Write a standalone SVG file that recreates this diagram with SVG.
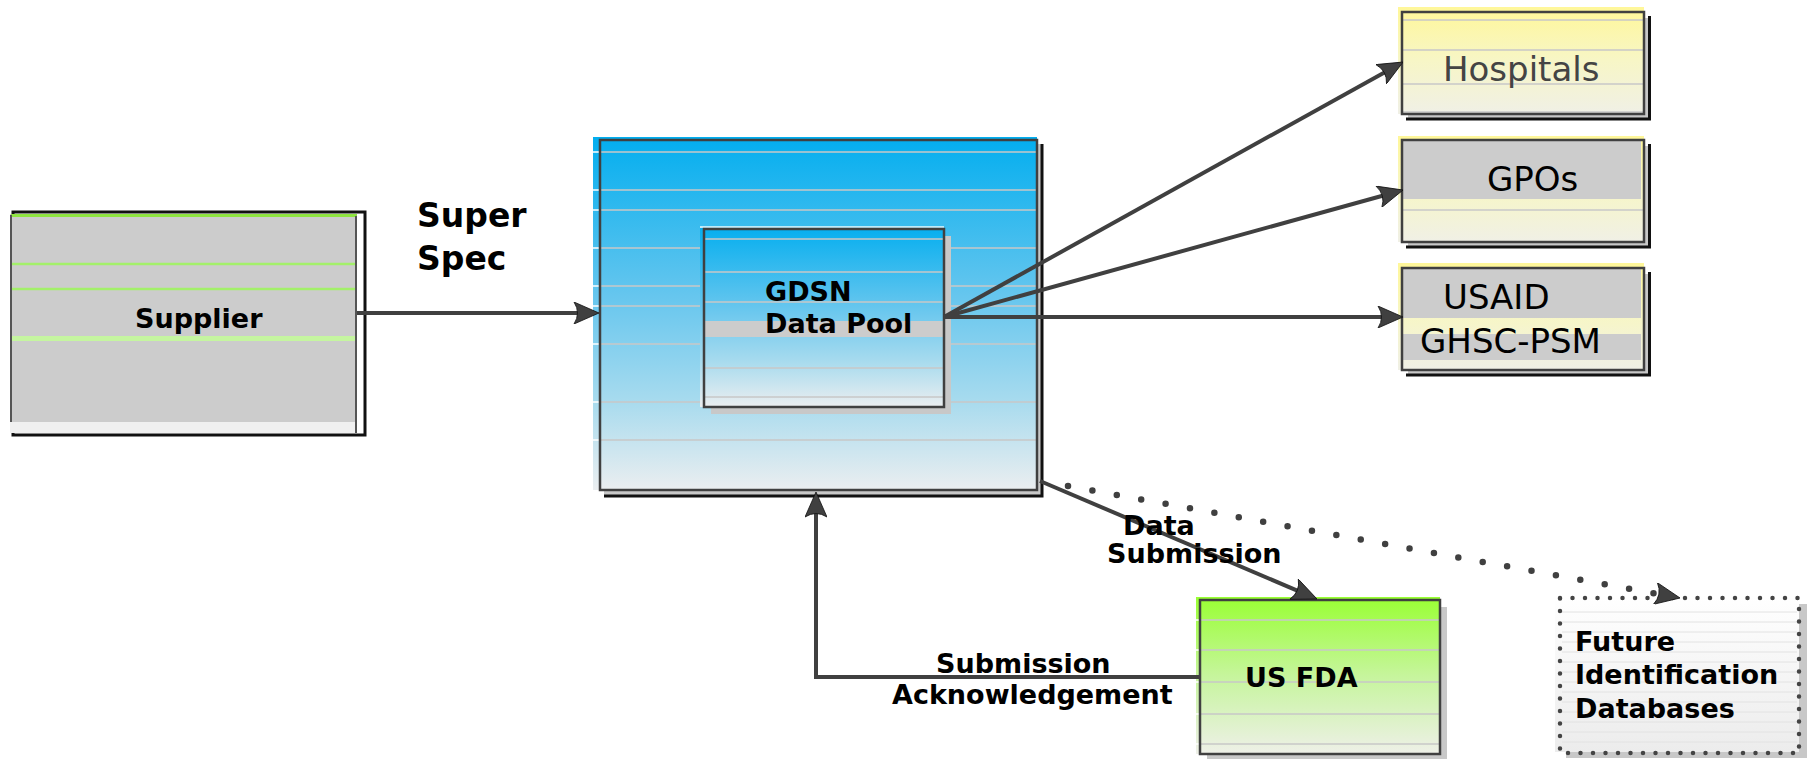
<svg xmlns="http://www.w3.org/2000/svg" width="1807" height="759" viewBox="0 0 1807 759">
<defs>
<style>
.t{font-family:"DejaVu Sans",Verdana,sans-serif;fill:#000;}
.b{font-weight:bold;font-size:27px;}
.bigt{font-weight:bold;font-size:33px;}
.rt{font-size:34px;}
.ln{stroke:#c8c8c8;stroke-width:1.5;fill:none;}
.fl{stroke:#e2e2e2;stroke-width:1;fill:none;}
.wt{stroke:#ffffff;stroke-width:1.5;fill:none;}
.bd{fill:none;stroke:#404040;stroke-width:2.5;}
.blk{fill:none;stroke:#111111;stroke-width:3;}
.sh{fill:#c8c8c8;}
.band{fill:#cccccc;}
.con{fill:none;stroke:#404040;stroke-width:4;}
</style>
<linearGradient id="blue" x1="0" y1="0" x2="0" y2="1">
<stop offset="0" stop-color="#03aeef"/>
<stop offset="0.45" stop-color="#66c6ee"/>
<stop offset="0.75" stop-color="#a8dbee"/>
<stop offset="1" stop-color="#ebeef0"/>
</linearGradient>
<linearGradient id="yellow" x1="0" y1="0" x2="0" y2="1">
<stop offset="0" stop-color="#fff799"/>
<stop offset="0.5" stop-color="#f7f6c6"/>
<stop offset="1" stop-color="#f0f0e6"/>
</linearGradient>
<linearGradient id="green" x1="0" y1="0" x2="0" y2="1">
<stop offset="0" stop-color="#99ff33"/>
<stop offset="0.5" stop-color="#c6f59c"/>
<stop offset="1" stop-color="#eef0e8"/>
</linearGradient>
<linearGradient id="white" x1="0" y1="0" x2="0" y2="1">
<stop offset="0" stop-color="#ffffff"/>
<stop offset="1" stop-color="#ececec"/>
</linearGradient>
<marker id="arr" markerUnits="userSpaceOnUse" viewBox="0 0 26 22" refX="16" refY="11" markerWidth="26" markerHeight="22" orient="auto">
<path d="M1,0 L26,11 L1,22 Q8,11 1,0 Z" fill="#404040" stroke="#111" stroke-width="0.8"/>
</marker>
</defs>
<rect width="1807" height="759" fill="#ffffff"/>

<g id="supplier">
<rect x="13" y="212" width="352" height="223" fill="#ffffff" class="blk"/>
<rect x="10" y="214" width="347" height="208" fill="#cccccc"/>
<rect x="10" y="422" width="347" height="11" fill="#f0f0f0"/>
<line x1="11" y1="215.5" x2="357" y2="215.5" stroke="#8fe540" stroke-width="3"/>
<line x1="11" y1="264" x2="357" y2="264" stroke="#a3f06a" stroke-width="2.5"/>
<line x1="11" y1="289" x2="357" y2="289" stroke="#a3f06a" stroke-width="2.5"/>
<line x1="11" y1="338.5" x2="357" y2="338.5" stroke="#c5f5a0" stroke-width="5"/>
<line x1="11" y1="215" x2="11" y2="422" stroke="#555" stroke-width="2"/>
<line x1="356" y1="216" x2="356" y2="433" stroke="#555" stroke-width="2"/>
<text class="t b" x="135" y="328">Supplier</text>
</g>

<g id="gdsn-outer">
<rect x="604" y="144" width="439" height="353" class="sh"/>
<path d="M1042,144 V496 H604" class="blk"/>
<rect x="593" y="137" width="444" height="353" fill="url(#blue)"/>
<g class="ln">
<path d="M600,152H1037M600,190H1037M600,210H1037M600,248H1037M600,286H1037M600,306H1037M600,344H1037M600,402H1037M600,440H1037"/>
</g>
<g class="wt">
<path d="M593,152H600M593,190H600M593,210H600M593,248H600M593,286H600M593,306H600M593,344H600M593,402H600M593,440H600"/>
</g>
<rect x="600" y="140" width="437" height="350" class="bd"/>
</g>

<g id="gdsn-pool">
<rect x="711" y="236" width="240" height="178" class="sh"/>
<rect x="700" y="226" width="244" height="181" fill="url(#blue)"/>
<line x1="700" y1="227" x2="944" y2="227" class="wt"/>
<g class="ln">
<path d="M704,239H944M704,272H944M704,302H944M704,368H944M704,397H944"/>
</g>
<rect x="704" y="321" width="240" height="16" class="band"/>
<rect x="704" y="229" width="240" height="178" class="bd"/>
<text class="t b" x="765" y="301">GDSN</text>
<text class="t b" x="765" y="333">Data Pool</text>
</g>

<g id="hospitals">
<rect x="1408" y="18" width="242" height="102" class="sh"/>
<path d="M1649.5,16 V119 H1406" class="blk"/>
<rect x="1398" y="7" width="246" height="107" fill="url(#yellow)"/>
<g class="ln"><path d="M1402,20H1644M1402,50H1644M1402,84H1644M1402,112H1644"/></g>
<rect x="1402" y="12" width="242" height="102" class="bd"/>
<text class="t rt" x="1443" y="81" style="fill:#444">Hospitals</text>
</g>

<g id="gpos">
<rect x="1408" y="146" width="242" height="102" class="sh"/>
<path d="M1649.5,144 V247 H1406" class="blk"/>
<rect x="1398" y="136" width="246" height="106" fill="url(#yellow)"/>
<rect x="1402" y="140" width="239" height="59" class="band"/>
<g class="ln"><path d="M1402,210H1644"/></g>
<rect x="1402" y="140" width="242" height="102" class="bd"/>
<text class="t rt" x="1487" y="191">GPOs</text>
</g>

<g id="usaid">
<rect x="1408" y="274" width="242" height="102" class="sh"/>
<path d="M1649.5,272 V375 H1406" class="blk"/>
<rect x="1398" y="263" width="246" height="107" fill="url(#yellow)"/>
<rect x="1402" y="268" width="239" height="50" class="band"/>
<rect x="1402" y="334" width="239" height="26" class="band"/>
<rect x="1402" y="268" width="242" height="102" class="bd"/>
<text class="t rt" x="1443" y="309">USAID</text>
<text class="t rt" x="1420" y="353">GHSC-PSM</text>
</g>

<g id="usfda">
<rect x="1207" y="607" width="240" height="153" class="sh"/>
<rect x="1196" y="597" width="244" height="157" fill="url(#green)"/>
<g class="ln"><path d="M1200,620H1440M1200,650H1440M1200,682H1440M1200,714H1440M1200,744H1440"/></g>
<g class="wt"><path d="M1196,620H1200M1196,650H1200M1196,682H1200M1196,714H1200M1196,744H1200"/></g>
<rect x="1200" y="600" width="240" height="154" class="bd"/>
<text class="t b" x="1245" y="687">US FDA</text>
</g>

<g id="future">
<rect x="1566" y="604" width="241" height="154" class="sh"/>
<rect x="1555" y="595" width="244" height="157" fill="url(#white)"/>
<g class="fl"><path d="M1562,612H1797M1562,622H1797M1562,632H1797M1562,642H1797M1562,652H1797M1562,662H1797M1562,672H1797M1562,682H1797M1562,692H1797M1562,702H1797M1562,712H1797M1562,722H1797M1562,732H1797M1562,742H1797"/></g>
<rect x="1560" y="598" width="239" height="155" fill="none" stroke="#444" stroke-width="4.5" stroke-linecap="round" stroke-dasharray="0 12.5"/>
<text class="t b" x="1575" y="651">Future</text>
<text class="t b" x="1575" y="684">Identification</text>
<text class="t b" x="1575" y="718">Databases</text>
</g>

<g id="connectors">
<path class="con" d="M357,313 H589" marker-end="url(#arr)"/>
<path class="con" d="M944,317 L1394.3,66.9" marker-end="url(#arr)"/>
<path class="con" d="M944,317 L1393.4,192.7" marker-end="url(#arr)"/>
<path class="con" d="M944,317 H1393" marker-end="url(#arr)"/>
<path class="con" d="M1040,481 L1307.8,595.1" marker-end="url(#arr)"/>
<path class="con" d="M1200,677 H816 V502" marker-end="url(#arr)"/>
<path d="M1068,486 L1670.2,596.2" fill="none" stroke="#404040" stroke-width="6.5" stroke-linecap="round" stroke-dasharray="0 24.8" marker-end="url(#arr)"/>
</g>

<g id="labels">
<text class="t bigt" x="417" y="227">Super</text>
<text class="t bigt" x="417" y="270">Spec</text>
<text class="t b" x="1123" y="535">Data</text>
<text class="t b" x="1107" y="563">Submission</text>
<text class="t b" x="936" y="673">Submission</text>
<text class="t b" x="892" y="704">Acknowledgement</text>
</g>
</svg>
